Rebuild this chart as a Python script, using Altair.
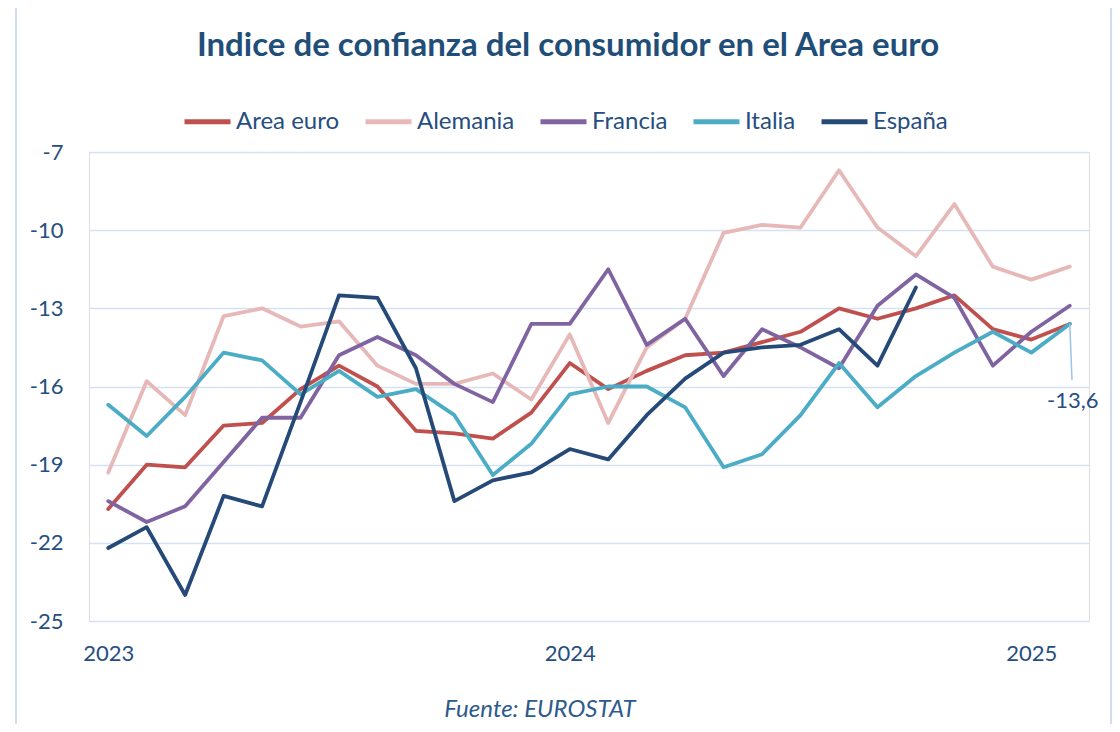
import altair as alt
import pandas as pd

# ---------------- data ----------------
meses = ["2023-01", "2023-02", "2023-03", "2023-04", "2023-05", "2023-06",
         "2023-07", "2023-08", "2023-09", "2023-10", "2023-11", "2023-12",
         "2024-01", "2024-02", "2024-03", "2024-04", "2024-05", "2024-06",
         "2024-07", "2024-08", "2024-09", "2024-10", "2024-11", "2024-12",
         "2025-01", "2025-02"]

area_euro = [-20.7, -19.0, -19.1, -17.5, -17.4, -16.1, -15.2, -16.0, -17.7, -17.8,
             -18.0, -17.0, -15.1, -16.1, -15.4, -14.8, -14.7, -14.3, -13.9, -13.0,
             -13.4, -13.0, -12.5, -13.8, -14.2, -13.6]
alemania = [-19.3, -15.8, -17.1, -13.3, -13.0, -13.7, -13.5, -15.2, -15.9, -15.9,
            -15.5, -16.5, -14.0, -17.4, -14.5, -13.4, -10.1, -9.8, -9.9, -7.7,
            -9.9, -11.0, -9.0, -11.4, -11.9, -11.4]
francia = [-20.4, -21.2, -20.6, -18.9, -17.2, -17.2, -14.8, -14.1, -14.8, -15.9,
           -16.6, -13.6, -13.6, -11.5, -14.4, -13.4, -15.6, -13.8, -14.5, -15.3,
           -12.9, -11.7, -12.6, -15.2, -13.9, -12.9]
italia = [-16.7, -17.9, -16.4, -14.7, -15.0, -16.3, -15.4, -16.4, -16.1, -17.1,
          -19.4, -18.2, -16.3, -16.0, -16.0, -16.8, -19.1, -18.6, -17.1, -15.1,
          -16.8, -15.6, -14.7, -13.9, -14.7, -13.6]
espana = [-22.2, -21.4, -24.0, -20.2, -20.6, -16.6, -12.5, -12.6, -15.3, -20.4,
          -19.6, -19.3, -18.4, -18.8, -17.1, -15.7, -14.7, -14.5, -14.4, -13.8,
          -15.2, -12.2, None, None, None, None]

series_names = ["Area euro", "Alemania", "Francia", "Italia", "España"]
series_values = [area_euro, alemania, francia, italia, espana]
series_colors = ["#C0504D", "#E6B9B8", "#8064A2", "#4BACC6", "#254A78"]

x_tick_idx = [0, 12, 24]
x_tick_labels = ["2023", "2024", "2025"]
y_ticks = [-7, -10, -13, -16, -19, -22, -25]

titulo = "Indice de confianza del consumidor en el Area euro"
fuente = "Fuente: EUROSTAT"
anotacion = "-13,6"

# ---------------- table ----------------
rows = []
for name, vals in zip(series_names, series_values):
    for i, (m, v) in enumerate(zip(meses, vals)):
        if v is not None:
            rows.append({"serie": name, "idx": i, "mes": m, "valor": v})
df = pd.DataFrame(rows)

FONT = "Lato"
TXT = "#264E80"

label_expr = " : ".join(
    f"datum.value == {i} ? '{l}'" for i, l in zip(x_tick_idx[:-1], x_tick_labels[:-1])
) + f" : '{x_tick_labels[-1]}'"

XDOM = [-0.5, len(meses) - 0.5]
YDOM = [-25, -7]

x_enc = alt.X("idx:Q",
              scale=alt.Scale(domain=XDOM, nice=False, zero=False),
              axis=alt.Axis(values=x_tick_idx, labelExpr=label_expr, title=None,
                            grid=False, domain=False, ticks=False, labelPadding=22,
                            labelFontSize=22, labelFont=FONT, labelColor=TXT))
y_enc = alt.Y("valor:Q",
              scale=alt.Scale(domain=YDOM, nice=False, zero=False),
              axis=alt.Axis(values=y_ticks, title=None, domain=False, ticks=False,
                            labelExpr="'-' + toString(abs(datum.value))",
                            labelPadding=26, labelFontSize=22, labelFont=FONT,
                            labelColor=TXT, gridColor="#D5E1F2", gridWidth=1.6))
color_enc = alt.Color("serie:N",
                      scale=alt.Scale(domain=series_names, range=series_colors),
                      legend=alt.Legend(orient="none", legendX=93, legendY=-56,
                                        direction="horizontal", title=None,
                                        symbolType="stroke", symbolSize=2116,
                                        symbolStrokeWidth=5, labelFontSize=24,
                                        labelFont=FONT, labelColor=TXT,
                                        columnPadding=15, labelOffset=3,
                                        columns=len(series_names)))

layers = []
for name in series_names:
    layers.append(
        alt.Chart(df).transform_filter(alt.datum.serie == name)
        .mark_line(strokeWidth=3.8, strokeJoin="round", strokeCap="round")
        .encode(x=x_enc, y=y_enc, color=color_enc, order="idx:Q")
    )

one = pd.DataFrame({"t": [titulo]})
title_layer = alt.Chart(one).mark_text(
    font=FONT, fontSize=33, fontWeight="bold", color="#1F4E79", align="center",
    baseline="middle").encode(x=alt.value(479), y=alt.value(-106), text="t:N")

src = pd.DataFrame({"t": [fuente]})
src_layer = alt.Chart(src).mark_text(
    font=FONT, fontSize=24, fontStyle="italic", color="#2E5A8C", align="center",
    baseline="middle").encode(x=alt.value(451), y=alt.value(558), text="t:N")

last_it = pd.DataFrame({"idx": [len(meses) - 1], "valor": [italia[-1]], "t": [anotacion]})
leader = alt.Chart(last_it).mark_rule(color="#9DC3E6", strokeWidth=1.5).encode(
    x=alt.X("idx:Q", scale=alt.Scale(domain=XDOM, nice=False)),
    x2=alt.value(983),
    y=alt.Y("valor:Q", scale=alt.Scale(domain=YDOM, nice=False)),
    y2=alt.value(228))
ann = alt.Chart(last_it).mark_text(
    font=FONT, fontSize=22, color=TXT, align="center", baseline="middle",
    dx=3, dy=77).encode(
    x=alt.X("idx:Q", scale=alt.Scale(domain=XDOM, nice=False)),
    y=alt.Y("valor:Q", scale=alt.Scale(domain=YDOM, nice=False)),
    text="t:N")

border = alt.Chart(one).mark_rule(color="#CFDDF0", strokeWidth=2).encode(
    x=alt.value(-73), y=alt.value(-144), y2=alt.value(572))
border_r = alt.Chart(one).mark_rule(color="#CFDDF0", strokeWidth=2).encode(
    x=alt.value(1022), y=alt.value(-144), y2=alt.value(572))

chart = alt.layer(border, border_r, *layers, leader, ann, title_layer, src_layer).properties(
    width=1000, height=469,
    autosize=alt.AutoSizeParams(type="none"),
    padding={"left": 81, "top": 144, "right": 23, "bottom": 103},
).configure_view(stroke=None).configure(background="white")

chart.save("out.html", embed_options={"renderer": "svg", "actions": False})
